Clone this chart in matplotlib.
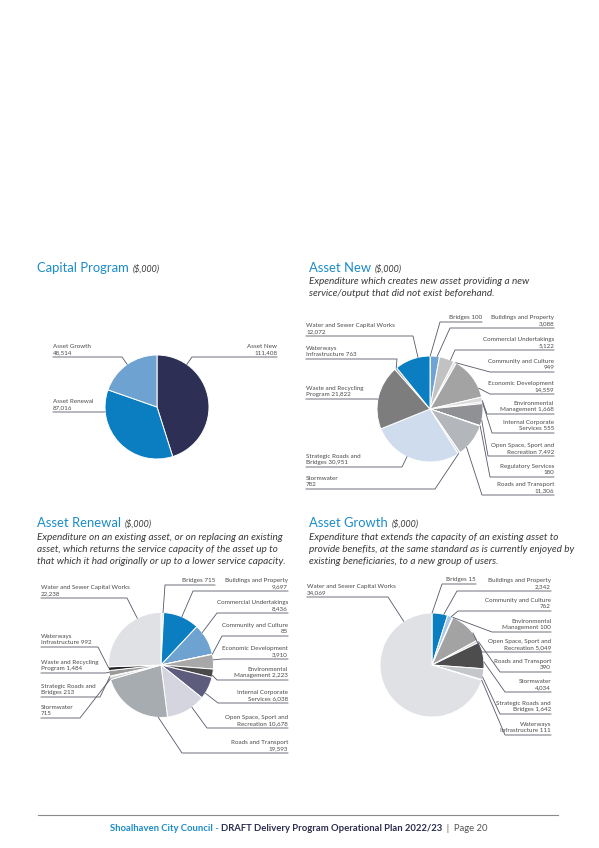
import numpy as np
import matplotlib
matplotlib.use("Agg")
import matplotlib.pyplot as plt

W, H = 599, 848

# ---------------- data ----------------
cap_names = ["Asset New\n111,408", "Asset Renewal\n87,016", "Asset Growth\n48,514"]
cap_values = [111408, 87016, 48514]
cap_colors = ["#2d2f55", "#0b7dc1", "#6ea2d0"]

new_names = ["Bridges 100", "Buildings and Property\n3,088", "Commercial Undertakings\n5,122",
             "Community and Culture\n949", "Economic Development\n14,559",
             "Environmental\nManagement 1,668", "Internal Corporate\nServices 555",
             "Open Space, Sport and\nRecreation 7,492", "Regulatory Services\n180",
             "Roads and Transport\n11,306", "Stormwater\n782",
             "Strategic Roads and\nBridges 30,951", "Waste and Recycling\nProgram 21,822",
             "Waterways\nInfrastructure 763", "Water and Sewer Capital Works\n12,072"]
new_values = [100, 3088, 5122, 949, 14559, 1668, 555, 7492, 180, 11306, 782, 30951, 21822, 763, 12072]
new_colors = ["#e4e4e4", "#6fa3d4", "#c2c2c2", "#e0e0e0", "#a3a3a3", "#dcdcdc", "#c4c4c4",
              "#8f9194", "#e8e8e8", "#b3b6ba", "#d8d8d8", "#cfdcee", "#7d7d7d", "#a0a0a0", "#0b7dc1"]

ren_names = ["Bridges 715", "Buildings and Property\n9,697", "Commercial Undertakings\n8,436",
             "Community and Culture\n85", "Economic Development\n3,910",
             "Environmental\nManagement 2,223", "Internal Corporate\nServices 6,038",
             "Open Space, Sport and\nRecreation 10,678", "Roads and Transport\n19,593",
             "Stormwater\n715", "Strategic Roads and\nBridges 213",
             "Waste and Recycling\nProgram 1,484", "Waterways\nInfrastructure 992",
             "Water and Sewer Capital Works\n22,238"]
ren_values = [715, 9697, 8436, 85, 3910, 2223, 6038, 10678, 19593, 715, 213, 1484, 992, 22238]
ren_colors = ["#e8e8e8", "#0b7dc1", "#6ea2d0", "#cccccc", "#a8a8a8", "#4a4a4a", "#5d5c7d",
              "#d5d5df", "#a7acb0", "#c8c8c8", "#3a3a3a", "#9a9a9a", "#252525", "#dfe1e5"]

gro_names = ["Bridges 15", "Buildings and Property\n2,342", "Community and Culture\n762",
             "Environmental\nManagement 100", "Open Space, Sport and\nRecreation 5,049",
             "Roads and Transport\n390", "Stormwater\n4,034", "Strategic Roads and\nBridges 1,642",
             "Waterways\nInfrastructure 111", "Water and Sewer Capital Works\n34,069"]
gro_values = [15, 2342, 762, 100, 5049, 390, 4034, 1642, 111, 34069]
gro_colors = ["#e0e0e0", "#0b7dc1", "#a8c8e8", "#e0e0e0", "#a3a3a3", "#d5d5d5", "#4d4d4d",
              "#c4c7ca", "#9a9a9a", "#dfe1e4"]

# ---------------- layout (pixels, top-down) ----------------
# label spots: (text x, ha, underline y, inner end x of underline)
cap_spots = [(277, "right", 357, 192), (53, "left", 412, 104), (53, "left", 357, 122)]
new_spots = [(482, "right", 322, 440), (554, "right", 328, 450), (554, "right", 350, 455),
             (554, "right", 372, 490), (554, "right", 394, 490), (554, "right", 414, 487),
             (554, "right", 433, 492), (554, "right", 456, 488), (554, "right", 477, 490),
             (554, "right", 495, 482), (306, "left", 489, 435), (306, "left", 467, 402),
             (306, "left", 399, 377), (306, "left", 359, 397), (306, "left", 336, 413)]
ren_spots = [(215, "right", 585, 165), (288, "right", 591, 193), (288, "right", 613, 217),
             (288, "right", 636, 222), (288, "right", 659, 222), (288, "right", 680, 217),
             (288, "right", 703, 218), (288, "right", 728, 207), (288, "right", 753, 182),
             (41, "left", 718, 80), (41, "left", 697, 100), (41, "left", 673, 105),
             (41, "left", 647, 98), (41, "left", 598, 127)]
gro_spots = [(476, "right", 584, 442), (551, "right", 591, 457), (551, "right", 611, 458),
             (551, "right", 632, 492), (551, "right", 652, 482), (551, "right", 672, 500),
             (551, "right", 692, 505), (551, "right", 714, 500), (551, "right", 735, 505),
             (307, "left", 597, 388)]

BLUE = "#1b8bc9"
LINE = "#565868"
TXT = "#4a4a4a"
DESC = "#3a3a3a"

plt.rcParams["font.family"] = ["Lato", "DejaVu Sans"]

fig = plt.figure(figsize=(W / 100, H / 100), dpi=100)
ax = fig.add_axes([0, 0, 1, 1])
ax.set_xlim(0, W)
ax.set_ylim(0, H)
renderer = fig.canvas.get_renderer()


def draw_pie(values, names, colors, cx, cy, r, spots):
    ax.pie(values, colors=colors, startangle=90, counterclock=False,
           center=(cx, H - cy), radius=r,
           wedgeprops=dict(edgecolor="white", linewidth=0.7))
    ax.set_xlim(0, W)
    ax.set_ylim(0, H)
    edges = np.cumsum([0] + list(values)) / sum(values) * 360
    for i, (name, (tx, ha, uy, ix)) in enumerate(zip(names, spots)):
        a0, a1 = edges[i], edges[i + 1]
        m = min(0.25 * (a1 - a0), 10)
        ang = np.degrees(np.arctan2(ix - cx, cy - uy)) % 360
        ang = np.clip(ang, a0 + m, a1 - m)
        px = cx + r * np.sin(np.radians(ang))
        py = cy - r * np.cos(np.radians(ang))
        ax.plot([tx, ix, px], [H - uy, H - uy, H - py], color=LINE, lw=0.6)
        ax.text(tx, H - uy + 1.8, name, ha=ha, va="bottom", fontsize=4.5,
                color=TXT, linespacing=1.35)


def header(x, y, title, desc_lines, desc_y):
    t = ax.text(x, H - y, title, fontsize=9.4, color=BLUE, va="baseline")
    bb = t.get_window_extent(renderer)
    ax.text(bb.x1 + 3.5, H - y, "($,000)", fontsize=6.4, style="italic",
            color=DESC, va="baseline")
    for line, ly in zip(desc_lines, desc_y):
        ax.text(x, H - ly, line, fontsize=7.2, style="italic", color=DESC, va="baseline")


header(37, 272, "Capital Program", [], [])
header(309, 272, "Asset New",
       ["Expenditure which creates new asset providing a new",
        "service/output that did not exist beforehand."], [283.5, 295.5])
header(37, 527, "Asset Renewal",
       ["Expenditure on an existing asset, or on replacing an existing",
        "asset, which returns the service capacity of the asset up to",
        "that which it had originally or up to a lower service capacity."],
       [539.5, 551.5, 563.5])
header(309, 527, "Asset Growth",
       ["Expenditure that extends the capacity of an existing asset to",
        "provide benefits, at the same standard as is currently enjoyed by",
        "existing beneficiaries, to a new group of users."],
       [539.5, 551.5, 563.5])

draw_pie(cap_values, cap_names, cap_colors, 157, 407, 52, cap_spots)
draw_pie(new_values, new_names, new_colors, 430, 409, 53, new_spots)
draw_pie(ren_values, ren_names, ren_colors, 161, 665, 52.5, ren_spots)
draw_pie(gro_values, gro_names, gro_colors, 432, 665, 52, gro_spots)

# footer
ax.plot([38, 558], [H - 815, H - 815], color="#8a8a8a", lw=0.8)
parts = [("Shoalhaven City Council", "bold", BLUE),
         (" - ", "normal", BLUE),
         ("DRAFT Delivery Program Operational Plan 2022/23", "bold", "#2b2d4e"),
         ("  |  Page 20", "normal", "#555555")]
x = 110
for s, w, c in parts:
    t = ax.text(x, H - 831, s, fontsize=6.8, fontweight=w, color=c, va="baseline")
    x = t.get_window_extent(renderer).x1

ax.set_aspect("auto")
ax.set_xlim(0, W)
ax.set_ylim(0, H)
ax.axis("off")
fig.savefig("out.png", dpi=100, facecolor="white")
